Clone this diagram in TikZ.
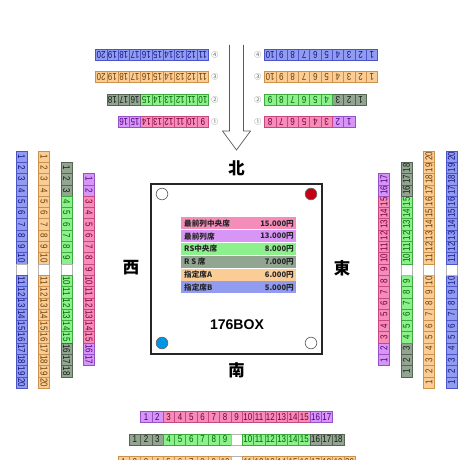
\documentclass[tikz,border=0pt]{standalone}
\usepackage{fontspec}
\setmainfont{Liberation Sans}
\newfontfamily\jpfont{Noto Sans CJK JP}
\newfontfamily\seatfont{Liberation Sans}[FakeStretch=0.8]
\usetikzlibrary{calc}
\usetikzlibrary{positioning}

% seat colours: fill, border, number
\definecolor{pkfill}{RGB}{245,140,185}
\definecolor{pkline}{RGB}{200,70,130}
\definecolor{pktext}{RGB}{120,0,50}
\definecolor{pufill}{RGB}{215,150,245}
\definecolor{puline}{RGB}{150,80,200}
\definecolor{putext}{RGB}{80,0,130}
\definecolor{gnfill}{RGB}{140,240,140}
\definecolor{gnline}{RGB}{60,170,60}
\definecolor{gntext}{RGB}{0,100,0}
\definecolor{dkfill}{RGB}{145,165,145}
\definecolor{dkline}{RGB}{85,100,85}
\definecolor{dktext}{RGB}{20,30,20}
\definecolor{orfill}{RGB}{250,205,150}
\definecolor{orline}{RGB}{205,145,75}
\definecolor{ortext}{RGB}{110,60,0}
\definecolor{blfill}{RGB}{145,155,240}
\definecolor{blline}{RGB}{75,85,200}
\definecolor{bltext}{RGB}{20,20,130}
\definecolor{gpfill}{RGB}{255,255,255}
\definecolor{gpline}{RGB}{180,180,180}
\definecolor{gptext}{RGB}{0,0,0}
\definecolor{postred}{RGB}{200,0,20}
\definecolor{postblue}{RGB}{0,150,230}

% full rows (seat number / colour), "/gp" is the aisle
\def\rowone{1/pu,2/pu,3/pk,4/pk,5/pk,6/pk,7/pk,8/pk,9/pk,10/pk,11/pk,12/pk,13/pk,14/pk,15/pk,16/pu,17/pu}
\def\rowtwo{1/dk,2/dk,3/dk,4/gn,5/gn,6/gn,7/gn,8/gn,9/gn,/gp,10/gn,11/gn,12/gn,13/gn,14/gn,15/gn,16/dk,17/dk,18/dk}
\def\rowthree{1/or,2/or,3/or,4/or,5/or,6/or,7/or,8/or,9/or,10/or,/gp,11/or,12/or,13/or,14/or,15/or,16/or,17/or,18/or,19/or,20/or}
\def\rowfour{1/bl,2/bl,3/bl,4/bl,5/bl,6/bl,7/bl,8/bl,9/bl,10/bl,/gp,11/bl,12/bl,13/bl,14/bl,15/bl,16/bl,17/bl,18/bl,19/bl,20/bl}
% north side is split by the entrance
\def\toponeR{1/pu,2/pu,3/pk,4/pk,5/pk,6/pk,7/pk,8/pk}
\def\toponeL{9/pk,10/pk,11/pk,12/pk,13/pk,14/pk,15/pu,16/pu}
\def\toptwoR{1/dk,2/dk,3/dk,4/gn,5/gn,6/gn,7/gn,8/gn,9/gn}
\def\toptwoL{10/gn,11/gn,12/gn,13/gn,14/gn,15/gn,16/dk,17/dk,18/dk}
\def\topthreeR{1/or,2/or,3/or,4/or,5/or,6/or,7/or,8/or,9/or,10/or}
\def\topthreeL{11/or,12/or,13/or,14/or,15/or,16/or,17/or,18/or,19/or,20/or}
\def\topfourR{1/bl,2/bl,3/bl,4/bl,5/bl,6/bl,7/bl,8/bl,9/bl,10/bl}
\def\topfourL{11/bl,12/bl,13/bl,14/bl,15/bl,16/bl,17/bl,18/bl,19/bl,20/bl}

% name prefix, list, first seat, step, rotation
\newcommand{\seatline}[5]{%
  \foreach \n/\col [count=\i from 0] in #2 {
    \node[seat=\col, rotate=#5] (#1-\i) at ($(#3)+\i*(#4)$) {\n};
  }%
}

\tikzset{
    x=0.03cm, y=-0.03cm, % one unit is one pixel of the plan, y downwards
    seat/.style={ % one seat box
        draw=#1line, fill=#1fill, text=#1text,
        minimum width=0.339cm, minimum height=0.33cm, inner sep=0pt,
        line width=0.4pt,
        font=\seatfont\fontsize{8.5}{8.5}\selectfont
    },
    rownum/.style={
        text=black!60, inner sep=0pt,
        font=\jpfont\fontsize{6}{6}\selectfont
    },
    side/.style={
        font=\jpfont\bfseries\fontsize{14}{14}\selectfont
    },
    ring/.style={
        draw=black!85, line width=1.5pt, fill=white,
        minimum width=5.13cm, minimum height=5.1cm
    },
    post/.style={ % ring corners
        circle, draw=black!60, fill=#1, line width=0.6pt,
        minimum size=0.35cm, inner sep=0pt
    },
    price/.style={
        fill=#1fill, minimum width=3.45cm, minimum height=0.36cm, inner sep=0pt
    },
    pricetext/.style={
        inner sep=0pt, text=black!85,
        font=\jpfont\bfseries\fontsize{6.5}{7}\selectfont
    },
    entrance/.style={
        draw=black!65, line width=0.6pt, fill=white
    }
}

\begin{document}
\begin{tikzpicture}
    \useasboundingbox (0,0) rectangle (460,460);
    \clip (0,0) rectangle (460,460);

    % entrance arrow
    \draw[entrance] (229.5,45) -- (229.5,131) -- (222.5,131) -- (236.5,150)
        -- (250.5,131) -- (243.5,131) -- (243.5,45);

    % ring
    \node[ring] (ring) at (236.5,269) {};
    \node[post=white] (nw) at (162,194) {};
    \node[post=postred] (ne) at (311,194) {};
    \node[post=postblue] (sw) at (162,343) {};
    \node[post=white] (se) at (311,343) {};

    % prices
    \foreach \lab/\yen/\col [count=\k from 0] in {最前列中央席/15.000円/pk,
        最前列席/13.000円/pu, RS中央席/8.000円/gn, R S 席/7.000円/dk,
        指定席A/6.000円/or, 指定席B/5.000円/bl} {
        \node[price=\col] (p\k) at (238.5,{223.4+\k*12.8}) {};
        \node[pricetext, anchor=west] (pl\k) at (184,{223.4+\k*12.8}) {\lab};
        \node[pricetext, anchor=east] (py\k) at (294,{223.4+\k*12.8}) {\yen};
    }
    \node[font=\bfseries\fontsize{12}{12}\selectfont] (box) at (237,325) {176BOX};

    % directions
    \node[side] (north) at (236.5,168) {北};
    \node[side] (south) at (236.5,370) {南};
    \node[side] (west) at (131,268) {西};
    \node[side] (east) at (342,268) {東};

    % south
    \seatline{s1}{\rowone}{146.1,417}{11.3,0}{0}
    \seatline{s2}{\rowtwo}{134.8,439.5}{11.3,0}{0}
    \seatline{s3}{\rowthree}{123.5,462}{11.3,0}{0}

    % west
    \seatline{w1}{\rowone}{89,179.1}{0,11.3}{-90}
    \seatline{w2}{\rowtwo}{66.5,167.8}{0,11.3}{-90}
    \seatline{w3}{\rowthree}{44,156.5}{0,11.3}{-90}
    \seatline{w4}{\rowfour}{21.5,156.5}{0,11.3}{-90}

    % east
    \seatline{e1}{\rowone}{384,359.9}{0,-11.3}{90}
    \seatline{e2}{\rowtwo}{406.5,371.2}{0,-11.3}{90}
    \seatline{e3}{\rowthree}{429,382.5}{0,-11.3}{90}
    \seatline{e4}{\rowfour}{451.5,382.5}{0,-11.3}{90}

    % north, both sides of the entrance
    \seatline{n1r}{\toponeR}{349.25,122}{-11.3,0}{180}
    \seatline{n1l}{\toponeL}{202.85,122}{-11.3,0}{180}
    \seatline{n2r}{\toptwoR}{360.55,99.5}{-11.3,0}{180}
    \seatline{n2l}{\toptwoL}{202.85,99.5}{-11.3,0}{180}
    \seatline{n3r}{\topthreeR}{371.85,77}{-11.3,0}{180}
    \seatline{n3l}{\topthreeL}{202.85,77}{-11.3,0}{180}
    \seatline{n4r}{\topfourR}{371.85,54.5}{-11.3,0}{180}
    \seatline{n4l}{\topfourL}{202.85,54.5}{-11.3,0}{180}
    \foreach \r/\y in {1/122,2/99.5,3/77,4/54.5} {
        \node[rownum] (cl\r) at (215,\y) {\ifcase\r\or ①\or ②\or ③\or ④\fi};
        \node[rownum] (cr\r) at (258,\y) {\ifcase\r\or ①\or ②\or ③\or ④\fi};
    }
\end{tikzpicture}
\end{document}
